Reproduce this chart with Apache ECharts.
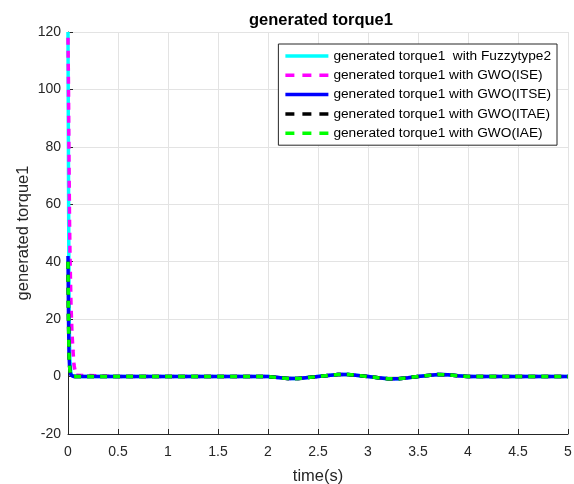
<!DOCTYPE html>
<html><head><meta charset="utf-8">
<script src="https://cdn.jsdelivr.net/npm/echarts@6/dist/echarts.min.js"></script>
<style>html,body{margin:0;padding:0;background:#fff}#c{width:574px;height:484px}</style>
</head><body><div id="c"></div>
<script>
const titleText = 'generated torque1';
const xName = 'time(s)';
const yName = 'generated torque1';
const seriesNames = [
  'generated torque1  with Fuzzytype2',
  'generated torque1 with GWO(ISE)',
  'generated torque1 with GWO(ITSE)',
  'generated torque1 with GWO(ITAE)',
  'generated torque1 with GWO(IAE)'
];
// shared time samples (s)
const time = [0, 0.005, 0.01, 0.015, 0.02, 0.03, 0.04, 0.05, 0.06, 0.08, 0.1, 0.5, 1.0, 1.5, 2.0,
  2.1, 2.2, 2.3, 2.4, 2.5, 2.6, 2.7, 2.8, 2.9, 3.0, 3.1, 3.2, 3.3, 3.4, 3.5, 3.6, 3.7, 3.8, 3.9, 4.0, 4.5, 5.0];
const fuzzy = [120, 70, 30, 12, 5, 1, 0.3, 0, 0, 0, 0, 0, 0, 0, 0,
  -0.35, -0.7, -0.7, -0.35, 0, 0.35, 0.7, 0.7, 0.4, 0, -0.4, -0.75, -0.75, -0.4, 0, 0.4, 0.7, 0.6, 0.25, 0, 0, 0];
const gwoISE = [118, 100, 75, 55, 42, 25, 15, 9, 4, 0.5, 0, 0, 0, 0, 0,
  -0.35, -0.7, -0.7, -0.35, 0, 0.35, 0.7, 0.7, 0.4, 0, -0.4, -0.75, -0.75, -0.4, 0, 0.4, 0.7, 0.6, 0.25, 0, 0, 0];
const gwoITSE = [42, 20, 8, 4, 2, 0.5, 0, 0, 0, 0, 0, 0, 0, 0, 0,
  -0.35, -0.7, -0.7, -0.35, 0, 0.35, 0.7, 0.7, 0.4, 0, -0.4, -0.75, -0.75, -0.4, 0, 0.4, 0.7, 0.6, 0.25, 0, 0, 0];
const gwoITAE = [40, 20, 8, 4, 2, 0.5, 0, 0, 0, 0, 0, 0, 0, 0, 0,
  -0.35, -0.7, -0.7, -0.35, 0, 0.35, 0.7, 0.7, 0.4, 0, -0.4, -0.75, -0.75, -0.4, 0, 0.4, 0.7, 0.6, 0.25, 0, 0, 0];
const gwoIAE = [40, 20, 8, 4, 2, 0.5, 0, 0, 0, 0, 0, 0, 0, 0, 0,
  -0.35, -0.7, -0.7, -0.35, 0, 0.35, 0.7, 0.7, 0.4, 0, -0.4, -0.75, -0.75, -0.4, 0, 0.4, 0.7, 0.6, 0.25, 0, 0, 0];
const xTicks = {min: 0, max: 5, interval: 0.5};
const yTicks = {min: -20, max: 120, interval: 20};

const values = [fuzzy, gwoISE, gwoITSE, gwoITAE, gwoIAE];
const colors = ['#00ffff', '#ff00ff', '#0000ff', '#000000', '#00ff00'];
const types = ['solid', 'dashed', 'solid', 'dashed', 'dashed'];
const font = '"Liberation Sans", Arial, sans-serif';
const solidIcon = 'path://M0,0h43v3.5h-43z';
const dashIcon = 'path://M0,0h9v3.5h-9z M17,0h9v3.5h-9z M34,0h9v3.5h-9z';

const chart = echarts.init(document.getElementById('c'), null, {renderer: 'canvas'});
chart.setOption({
  animation: false,
  backgroundColor: '#fff',
  title: {text: titleText, left: 316, textAlign: 'center', top: 7,
    textStyle: {fontFamily: font, fontSize: 16.5, fontWeight: 'bold', color: '#000'}},
  grid: {left: 68, right: 6, top: 32, bottom: 50, containLabel: false, outerBoundsMode: 'none'},
  legend: {
    orient: 'vertical', right: 17, top: 44,
    backgroundColor: '#fff', borderColor: '#262626', borderWidth: 1,
    padding: [5, 6, 5, 7], itemGap: 5.3, itemWidth: 43, itemHeight: 14,
    symbolKeepAspect: true,
    textStyle: {fontFamily: font, fontSize: 13.7, color: '#000'},
    data: seriesNames.map((n, i) => ({
      name: n,
      icon: types[i] === 'dashed' ? dashIcon : solidIcon,
      itemStyle: {color: colors[i], opacity: 1}
    }))
  },
  xAxis: {
    type: 'value', min: xTicks.min, max: xTicks.max, interval: xTicks.interval,
    name: xName, nameLocation: 'middle', nameGap: 34, nameMoveOverlap: false,
    nameTextStyle: {fontFamily: font, fontSize: 16.5, color: '#262626'},
    axisLine: {show: true, onZero: false, lineStyle: {color: '#262626', width: 1}},
    axisTick: {show: true, inside: true, length: 5, lineStyle: {color: '#262626'}},
    axisLabel: {fontFamily: font, fontSize: 14, color: '#262626', margin: 11},
    splitLine: {show: true, lineStyle: {color: '#e3e3e3', width: 1}}
  },
  yAxis: {
    type: 'value', min: yTicks.min, max: yTicks.max, interval: yTicks.interval,
    name: yName, nameLocation: 'middle', nameGap: 36, nameMoveOverlap: false,
    nameTextStyle: {fontFamily: font, fontSize: 16.5, color: '#262626'},
    axisLine: {show: true, onZero: false, lineStyle: {color: '#262626', width: 1}},
    axisTick: {show: true, inside: true, length: 5, lineStyle: {color: '#262626'}},
    axisLabel: {fontFamily: font, fontSize: 14, color: '#262626', margin: 7},
    splitLine: {show: true, lineStyle: {color: '#e3e3e3', width: 1}}
  },
  series: seriesNames.map((n, i) => ({
    name: n, type: 'line', showSymbol: false, symbol: 'none',
    data: time.map((t, k) => [t, values[i][k]]),
    lineStyle: {color: colors[i], width: 3.5, type: types[i] === 'dashed' ? [7, 6] : 'solid'},
    itemStyle: {color: colors[i]},
    z: 2 + i
  }))
});
</script></body></html>
